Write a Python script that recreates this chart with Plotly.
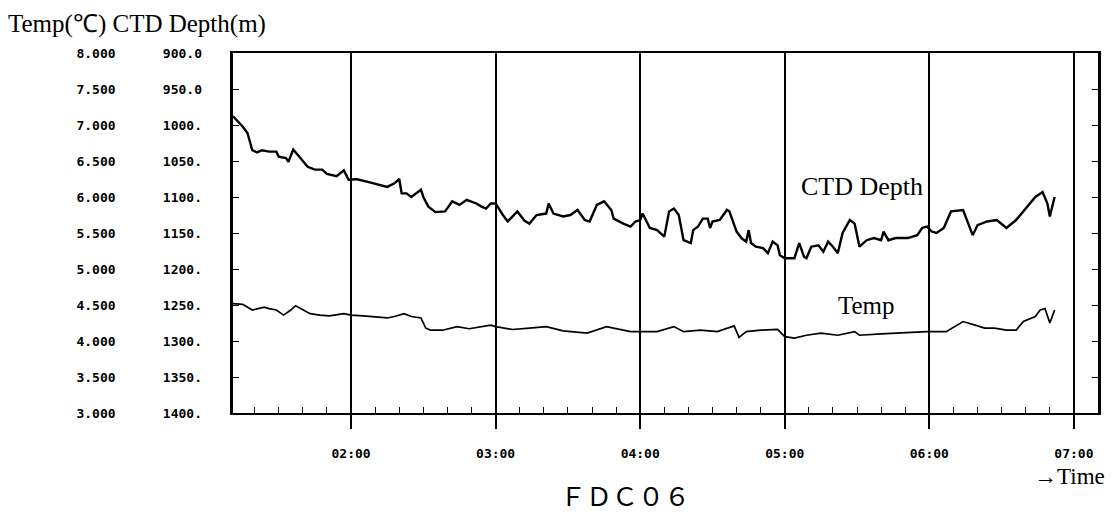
import pandas as pd
import plotly.graph_objects as go

# ---- data ----
depth_time = ["01:11","01:15","01:17","01:19","01:21","01:23","01:26","01:29","01:30","01:33",
              "01:34","01:36","01:38","01:42","01:45","01:48","01:50","01:54","01:57","01:59",
              "02:00","02:02","02:07","02:11","02:15","02:18","02:20","02:21","02:23","02:25",
              "02:27","02:29","02:30","02:32","02:35","02:39","02:42","02:45","02:48","02:52",
              "02:54","02:56","02:58","03:00","03:03","03:05","03:09","03:12","03:14","03:17",
              "03:21","03:22","03:24","03:28","03:31","03:34","03:37","03:39","03:42","03:45",
              "03:48","03:49","03:53","03:56","03:58","04:00","04:01","04:04","04:07","04:10",
              "04:12","04:14","04:16","04:18","04:21","04:22","04:24","04:26","04:28","04:29",
              "04:30","04:33","04:36","04:37","04:40","04:42","04:44","04:45","04:46","04:48",
              "04:51","04:53","04:55","04:57","04:58","05:00","05:04","05:06","05:08","05:09",
              "05:11","05:14","05:16","05:18","05:20","05:22","05:24","05:27","05:29","05:31",
              "05:34","05:37","05:40","05:41","05:43","05:46","05:51","05:55","05:57","05:59",
              "06:01","06:03","06:06","06:09","06:14","06:16","06:18","06:20","06:24","06:28",
              "06:32","06:36","06:41","06:44","06:47","06:49","06:50","06:52"]
depth_m = [988,1002,1011,1035,1038,1035,1037,1037,1044,1046,
           1051,1034,1042,1058,1062,1062,1068,1071,1063,1076,
           1076,1075,1079,1083,1086,1081,1075,1095,1095,1100,
           1095,1090,1100,1113,1121,1120,1106,1111,1104,1109,
           1113,1116,1109,1109,1125,1134,1120,1133,1137,1125,
           1123,1109,1123,1127,1125,1118,1132,1134,1111,1106,
           1118,1130,1137,1141,1134,1132,1123,1143,1146,1155,
           1120,1116,1125,1160,1164,1146,1141,1130,1130,1143,
           1134,1132,1118,1120,1148,1157,1162,1146,1164,1169,
           1171,1178,1162,1167,1181,1185,1185,1164,1183,1185,
           1169,1167,1176,1162,1169,1178,1150,1132,1137,1169,
           1160,1157,1160,1148,1160,1157,1157,1153,1143,1141,
           1148,1150,1143,1120,1118,1137,1153,1139,1134,1132,
           1143,1132,1111,1100,1093,1109,1127,1100]

temp_time = ["01:11","01:15","01:19","01:24","01:26","01:29","01:32","01:35","01:37","01:40",
             "01:43","01:47","01:51","01:57","02:00","02:05","02:11","02:15","02:18","02:22",
             "02:25","02:29","02:31","02:33","02:38","02:44","02:49","02:58","03:00","03:07",
             "03:14","03:21","03:28","03:38","03:46","03:56","04:00","04:07","04:14","04:18",
             "04:25","04:32","04:39","04:41","04:44","04:50","04:57","05:00","05:04","05:09",
             "05:15","05:22","05:29","05:31","05:40","05:51","05:59","06:07","06:14","06:19",
             "06:23","06:27","06:32","06:36","06:39","06:44","06:46","06:48","06:50","06:52"]
temp_c = [4.52,4.51,4.43,4.47,4.45,4.43,4.36,4.43,4.49,4.43,
          4.38,4.36,4.35,4.38,4.36,4.35,4.33,4.32,4.34,4.38,
          4.34,4.32,4.18,4.15,4.15,4.20,4.17,4.22,4.20,4.16,
          4.18,4.20,4.14,4.11,4.20,4.13,4.13,4.13,4.20,4.13,
          4.15,4.13,4.21,4.05,4.13,4.15,4.16,4.06,4.04,4.08,
          4.11,4.08,4.13,4.08,4.10,4.12,4.13,4.13,4.27,4.22,
          4.18,4.18,4.15,4.15,4.27,4.34,4.43,4.45,4.25,4.43]

temp_ticks = [3.0, 3.5, 4.0, 4.5, 5.0, 5.5, 6.0, 6.5, 7.0, 7.5, 8.0]
depth_ticks = [1400, 1350, 1300, 1250, 1200, 1150, 1100, 1050, 1000, 950, 900]
x_range = ["01:11", "07:10"]
DAY = "2000-01-01 "


def to_dt(times):
    return pd.to_datetime([DAY + t for t in times])


def depth_label(v):
    return f"{v:.1f}" if v < 1000 else f"{int(v)}."


fig = go.Figure()
fig.add_trace(go.Scatter(x=to_dt(depth_time), y=depth_m, mode="lines", yaxis="y2",
                         line=dict(color="black", width=2.4), name="CTD Depth",
                         showlegend=False))
fig.add_trace(go.Scatter(x=to_dt(temp_time), y=temp_c, mode="lines", yaxis="y",
                         line=dict(color="black", width=1.7), name="Temp",
                         showlegend=False))

xr = [DAY + x_range[0], DAY + x_range[1]]
tickfont = dict(family="DejaVu Sans Mono", size=13, color="black", weight="bold")

# page body has an 8px margin: figure box compensates for it
fig.update_layout(
    width=1109, height=506,
    margin=dict(l=225, r=19, t=45, b=101),
    paper_bgcolor="white", plot_bgcolor="white",
    title=dict(text="Temp(℃) CTD Depth(m)", x=0.0, xanchor="left",
               y=0.970, yanchor="middle", xref="container", yref="container",
               font=dict(family="Liberation Serif", size=25, color="black")),
    xaxis=dict(type="date", range=xr, tickformat="%H:%M",
               tick0=DAY + "02:00", dtick=3600000,
               showgrid=True, gridcolor="black", gridwidth=1.6,
               ticks="outside", ticklen=14, tickwidth=1.6, tickcolor="black",
               showline=True, linecolor="black", linewidth=2, mirror=True,
               tickfont=tickfont, ticklabelstandoff=13,
               minor=dict(ticks="inside", dtick=600000, tick0=DAY + "02:00",
                          ticklen=6, tickwidth=1.3, tickcolor="black", showgrid=False),
               zeroline=False, fixedrange=True),
    xaxis2=dict(type="date", range=xr, overlaying="x", side="top", anchor="y",
                tick0=DAY + "02:00", dtick=600000, ticks="inside", ticklen=6,
                tickwidth=1.3, tickcolor="black", showticklabels=False,
                showgrid=False, showline=False, zeroline=False),
    yaxis=dict(range=[3, 8], tickvals=temp_ticks,
               ticktext=[f"{v:.3f}" for v in temp_ticks],
               ticks="inside", ticklen=6, tickwidth=1.3, tickcolor="black",
               showline=True, linecolor="black", linewidth=2.6, mirror="ticks",
               showgrid=False, zeroline=False, tickfont=tickfont,
               ticklabelstandoff=112),
    yaxis2=dict(range=[1400, 900], tickvals=depth_ticks,
                ticktext=[depth_label(v) for v in depth_ticks],
                overlaying="y", side="left", anchor="x",
                ticks="", showline=False, showgrid=False, zeroline=False,
                tickfont=tickfont, ticklabelstandoff=30),
)

fig.add_annotation(x=DAY + "05:32", y=1085, xref="x", yref="y2", text="CTD Depth",
                   showarrow=False, font=dict(family="Liberation Serif", size=26, color="black"),
                   xanchor="center", yanchor="middle")
fig.add_annotation(x=DAY + "05:34", y=4.5, xref="x", yref="y", text="Temp",
                   showarrow=False, font=dict(family="Liberation Serif", size=25, color="black"),
                   xanchor="center", yanchor="middle")
fig.add_annotation(x=1.0104, y=-0.175, xref="paper", yref="paper", text="→Time",
                   showarrow=False, font=dict(family="Liberation Serif", size=23, color="black"),
                   xanchor="right", yanchor="middle")
fig.add_annotation(x=0.453, y=-0.225, xref="paper", yref="paper", text="ＦＤＣ０６",
                   showarrow=False, font=dict(family="Noto Sans CJK JP", size=26, color="black"),
                   xanchor="center", yanchor="middle")

fig.write_html("out.html")
